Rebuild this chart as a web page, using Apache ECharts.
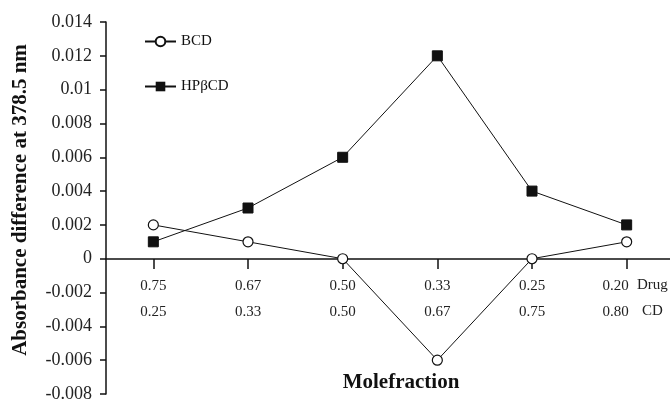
<!DOCTYPE html>
<html>
<head>
<meta charset="utf-8">
<script src="https://cdn.jsdelivr.net/npm/echarts@6/dist/echarts.min.js"></script>
<style>
  html, body { margin: 0; padding: 0; background: #fff; }
  #chart { width: 670px; height: 402px; }
</style>
</head>
<body>
<div id="chart"></div>
<script>
// mole fractions (two rows under the x axis)
const drugFrac = ["0.75", "0.67", "0.50", "0.33", "0.25", "0.20"];
const cdFrac = ["0.25", "0.33", "0.50", "0.67", "0.75", "0.80"];

// absorbance difference at 378.5 nm
const bcd = [0.002, 0.001, 0, -0.006, 0, 0.001];
const hpbcd = [0.001, 0.003, 0.006, 0.012, 0.004, 0.002];

const serif = "Liberation Serif";

const chart = echarts.init(document.getElementById("chart"));

const option = {
  animation: false,
  grid: { left: 106, right: -4, top: 22, bottom: 8, containLabel: false, outerBoundsMode: "none" },
  legend: {
    orient: "vertical",
    left: 139,
    top: 29,
    itemGap: 30,
    itemWidth: 31,
    itemHeight: 12,
    textStyle: { fontFamily: serif, fontSize: 15, color: "#111" },
    data: ["BCD", "HP\u03B2CD"],
  },
  xAxis: {
    type: "category",
    data: drugFrac.map((d, i) => d + "\n" + cdFrac[i]),
    boundaryGap: true,
    position: "bottom",
    offset: -135,
    axisLine: { onZero: false, lineStyle: { color: "#111", width: 1.5 } },
    axisTick: { show: true, inside: false, alignWithLabel: true, length: 10, lineStyle: { color: "#111", width: 1.5 } },
    axisLabel: {
      margin: 14,
      fontFamily: serif,
      fontSize: 15,
      color: "#222",
      lineHeight: 26,
      // last pair sits a little left of its tick, next to "Drug"/"CD"
      formatter: (v, i) => (i === drugFrac.length - 1 ? "{last|" + drugFrac[i] + "}\n{last|" + cdFrac[i] + "}" : v),
      rich: {
        last: { fontFamily: serif, fontSize: 15, color: "#222", lineHeight: 26, padding: [0, 22, 0, 0] },
      },
    },
  },
  yAxis: {
    type: "value",
    min: -0.008,
    max: 0.014,
    interval: 0.002,
    axisLine: { show: true, lineStyle: { color: "#111", width: 1.5 } },
    axisTick: { show: true, length: 6, lineStyle: { color: "#111", width: 1.5 } },
    splitLine: { show: false },
    axisLabel: {
      margin: 14,
      fontFamily: serif,
      fontSize: 18,
      color: "#222",
      formatter: (v) => String(+v.toFixed(3)),
    },
  },
  graphic: [
    {
      type: "text",
      left: 637,
      top: 278,
      style: { text: "Drug", font: "15px " + serif, fill: "#222" },
    },
    {
      type: "text",
      left: 642,
      top: 304,
      style: { text: "CD", font: "15px " + serif, fill: "#222" },
    },
    {
      type: "text",
      x: 401,
      y: 383,
      style: {
        text: "Molefraction",
        font: "bold 21px " + serif,
        fill: "#111",
        align: "center",
        verticalAlign: "middle",
      },
    },
    {
      type: "text",
      x: 21,
      y: 200,
      rotation: Math.PI / 2,
      style: {
        text: "Absorbance difference at 378.5 nm",
        font: "bold 21px " + serif,
        fill: "#111",
        align: "center",
        verticalAlign: "middle",
      },
    },
  ],
  series: [
    {
      name: "BCD",
      type: "line",
      data: bcd,
      symbol: "circle",
      symbolSize: 10,
      lineStyle: { color: "#111", width: 1 },
      itemStyle: { color: "#fff", borderColor: "#111", borderWidth: 1.2 },
      z: 3,
    },
    {
      name: "HP\u03B2CD",
      type: "line",
      data: hpbcd,
      symbol: "rect",
      symbolSize: 10,
      lineStyle: { color: "#111", width: 1 },
      itemStyle: { color: "#111", borderColor: "#111" },
      z: 3,
    },
  ],
};

chart.setOption(option);
</script>
</body>
</html>
